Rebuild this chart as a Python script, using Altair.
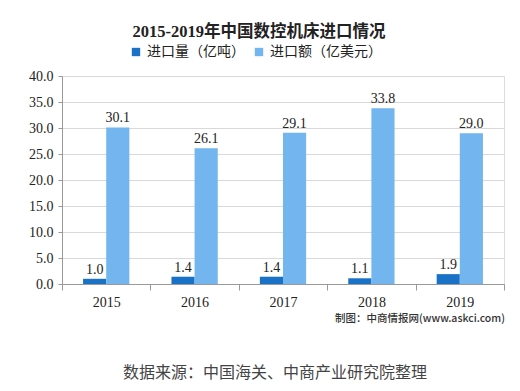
import altair as alt
import pandas as pd

years = ["2015", "2016", "2017", "2018", "2019"]
volume = [1.0, 1.4, 1.4, 1.1, 1.9]          # 进口量（亿吨）
value = [30.1, 26.1, 29.1, 33.8, 29.0]      # 进口额（亿美元）
series = ["进口量（亿吨）", "进口额（亿美元）"]
colors = ["#1a72c6", "#72b5ef"]

rows = []
for i, y in enumerate(years):
    rows.append({"year": y, "series": series[0], "v": volume[i]})
    rows.append({"year": y, "series": series[1], "v": value[i]})
df = pd.DataFrame(rows)

serif = "Liberation Serif, Noto Sans CJK SC"
cjk = "Noto Sans CJK SC"

x = alt.X("year:N", title=None, sort=years,
          scale=alt.Scale(paddingInner=0, paddingOuter=0),
          axis=alt.Axis(labelAngle=0, labelFont=serif, labelFontSize=14, labelColor="#222",
                        domainColor="#999", tickColor="#999", tickSize=6, tickBand="extent",
                        labelPadding=5, grid=False))
y = alt.Y("v:Q", title=None, scale=alt.Scale(domain=[0, 40], nice=False),
          axis=alt.Axis(values=[0, 5, 10, 15, 20, 25, 30, 35, 40], format=".1f",
                        labelFont=serif, labelFontSize=14, labelColor="#222",
                        domainColor="#999", tickColor="#999", tickSize=4,
                        gridColor="#d9d9d9", labelPadding=5))
xo = alt.XOffset("series:N", sort=series,
                 scale=alt.Scale(paddingInner=0, paddingOuter=0.91))
color = alt.Color("series:N", sort=series,
                  scale=alt.Scale(domain=series, range=colors),
                  legend=alt.Legend(title=None, orient="none", legendX=67, legendY=-31,
                                    direction="horizontal", symbolType="square",
                                    symbolSize=70, symbolStrokeWidth=0, labelFont=cjk,
                                    labelFontSize=14, labelColor="#222", columnPadding=7,
                                    labelOffset=4, padding=0))

base = alt.Chart(df)
bars = base.mark_bar().encode(x=x, y=y, xOffset=xo, color=color)
labels = base.mark_text(dy=-9, font=serif, fontSize=14, color="#222").encode(
    x=x, y=y, xOffset=xo, text=alt.Text("v:Q", format=".1f"))

one = pd.DataFrame({"k": [0]})
title = alt.Chart(one).mark_text(font=serif, fontSize=16.5, fontWeight="bold", color="#222").encode(
    x=alt.value(197), y=alt.value(-44), text=alt.value("2015-2019年中国数控机床进口情况"))
credit = alt.Chart(one).mark_text(font=cjk, fontSize=10.5, fontWeight=500, color="#333",
                                  align="left").encode(
    x=alt.value(273), y=alt.value(243), text=alt.value("制图：中商情报网(www.askci.com)"))
source = alt.Chart(one).mark_text(font=cjk, fontSize=16, color="#444").encode(
    x=alt.value(213), y=alt.value(297), text=alt.value("数据来源：中国海关、中商产业研究院整理"))

chart = alt.layer(bars, labels, title, credit, source).properties(
    width=442, height=208, autosize="none",
    padding={"left": 54, "top": 68, "right": 8, "bottom": 99},
).configure_view(stroke=None).configure(background="white")

chart.save("out.html", embed_options={"renderer": "svg", "actions": False})
